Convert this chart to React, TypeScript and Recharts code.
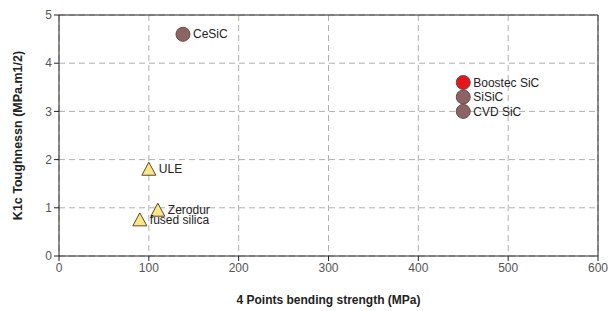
import { ScatterChart, Scatter, XAxis, YAxis, CartesianGrid, ReferenceLine, LabelList } from "recharts";

const sicNames = ["CeSiC", "SiSiC", "CVD SiC"];
const sicStrength = [138, 450, 450];
const sicToughness = [4.6, 3.3, 3.0];

const boostecNames = ["Boostec SiC"];
const boostecStrength = [450];
const boostecToughness = [3.6];

const glassNames = ["ULE", "Zerodur", "fused silica"];
const glassStrength = [100, 110, 90];
const glassToughness = [1.8, 0.95, 0.75];

const xTicks = [0, 100, 200, 300, 400, 500, 600];
const yTicks = [0, 1, 2, 3, 4, 5];

const toRows = (names: string[], xs: number[], ys: number[]) =>
  names.map((name, i) => ({ name, x: xs[i], y: ys[i] }));

const sicData = toRows(sicNames, sicStrength, sicToughness);
const boostecData = toRows(boostecNames, boostecStrength, boostecToughness);
const glassData = toRows(glassNames, glassStrength, glassToughness);

const FONT = "'Liberation Sans', Arial, sans-serif";

function Dot(props: any) {
  const { cx, cy, fill } = props;
  return <circle cx={cx} cy={cy} r={7} fill={fill} stroke="#6b4a4a" strokeWidth={1} />;
}

function Tri(props: any) {
  const { cx, cy } = props;
  const p = `${cx},${cy - 7} ${cx - 7},${cy + 6} ${cx + 7},${cy + 6}`;
  return <polygon points={p} fill="#ffe58a" stroke="#5a4a20" strokeWidth={1} />;
}

function PointLabel(props: any) {
  const { x, y, width, height, value } = props;
  const cx = x + width / 2;
  const cy = y + height / 2;
  return (
    <text x={cx + 10} y={cy} dy="0.35em" fontSize={12} fill="#222" fontFamily={FONT}>
      {value}
    </text>
  );
}

export default function App() {
  return (
    <div style={{ position: "absolute", left: 0, top: 0, background: "#fff" }}>
      <ScatterChart width={610} height={311} margin={{ top: 15, right: 12, bottom: 13, left: 0 }}>
        <CartesianGrid stroke="#b0b0b0" strokeDasharray="6 4" />
        <XAxis
          type="number"
          dataKey="x"
          domain={[0, 600]}
          ticks={xTicks}
          height={42}
          stroke="#222"
          tickSize={5}
          tick={{ fill: "#555", fontSize: 12, fontFamily: FONT }}
          label={{ value: "4 Points bending strength (MPa)", position: "insideBottom", offset: -6, style: { fontWeight: "bold", fontSize: 12, fill: "#222", fontFamily: FONT } }}
        />
        <YAxis
          type="number"
          dataKey="y"
          domain={[0, 5]}
          ticks={yTicks}
          width={59}
          stroke="#222"
          tickSize={5}
          tick={{ fill: "#555", fontSize: 12, fontFamily: FONT }}
          label={{ value: "K1c Toughnessn (MPa.m1/2)", angle: -90, position: "insideLeft", offset: 18, style: { textAnchor: "middle", fontWeight: "bold", fontSize: 12.5, fill: "#222", fontFamily: FONT } }}
        />
        <ReferenceLine y={5} stroke="#222" strokeWidth={1} />
        <ReferenceLine x={600} stroke="#222" strokeWidth={1} />
        <Scatter data={sicData} fill="#8c6464" shape={Dot} isAnimationActive={false}>
          <LabelList dataKey="name" content={PointLabel} />
        </Scatter>
        <Scatter data={boostecData} fill="#e8141c" shape={Dot} isAnimationActive={false}>
          <LabelList dataKey="name" content={PointLabel} />
        </Scatter>
        <Scatter data={glassData} fill="#ffe58a" shape={Tri} isAnimationActive={false}>
          <LabelList dataKey="name" content={PointLabel} />
        </Scatter>
      </ScatterChart>
    </div>
  );
}
